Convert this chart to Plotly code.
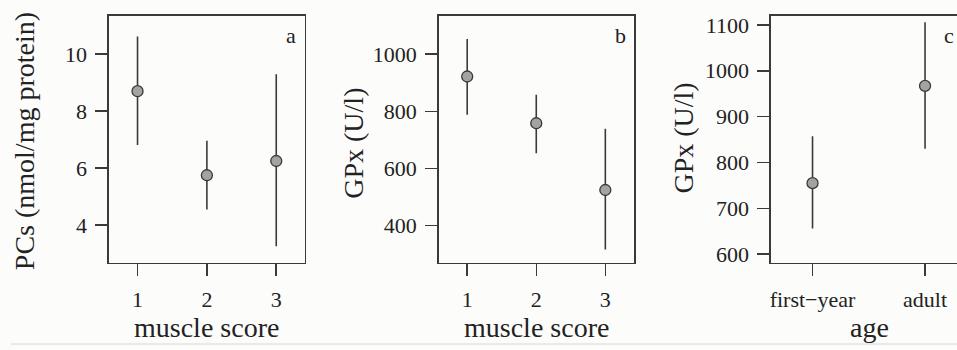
import plotly.graph_objects as go

# ---- data ----
muscle_scores = [1, 2, 3]
pcs_mean = [8.70, 5.75, 6.25]
pcs_upper = [10.62, 6.96, 9.30]
pcs_lower = [6.81, 4.55, 3.26]

gpx_ms_mean = [922, 758, 524]
gpx_ms_upper = [1053, 858, 739]
gpx_ms_lower = [788, 653, 315]

age_pos = [1, 2]
age_labels = ["first\u2212year", "adult"]
gpx_age_mean = [755, 967]
gpx_age_upper = [857, 1106]
gpx_age_lower = [656, 830]

W, H = 957, 350
FONT = "Liberation Serif"
DARK = "#3a3a3a"
BG = "#fcfcfa"


def px(x):
    return x / W


def py(y):
    return 1 - y / H


fig = go.Figure()


def add_panel(xs, mean, up, lo, xa, ya):
    fig.add_trace(go.Scatter(
        x=xs, y=mean, mode="markers",
        marker=dict(size=11, color="#a3a3a3", line=dict(color=DARK, width=1.3)),
        error_y=dict(type="data", symmetric=False,
                     array=[u - m for u, m in zip(up, mean)],
                     arrayminus=[m - l for m, l in zip(mean, lo)],
                     width=0, thickness=1.6, color=DARK),
        xaxis=xa, yaxis=ya, showlegend=False, hoverinfo="skip"))


add_panel(muscle_scores, pcs_mean, pcs_upper, pcs_lower, "x", "y")
add_panel(muscle_scores, gpx_ms_mean, gpx_ms_upper, gpx_ms_lower, "x2", "y2")
add_panel(age_pos, gpx_age_mean, gpx_age_upper, gpx_age_lower, "x3", "y3")

top, bot = 13, 265
ydom = [py(bot), py(top)]

ax_common = dict(showline=True, linecolor=DARK, linewidth=1.5, ticks="outside",
                 ticklen=12, tickwidth=1.5, tickcolor=DARK, showgrid=False,
                 zeroline=False, tickfont=dict(family=FONT, size=22, color="#222"),
                 ticklabelstandoff=4)

fig.update_layout(
    xaxis=dict(domain=[px(108), px(304)], range=[0.587, 3.41], tickvals=muscle_scores,
               mirror=True, anchor="y", **ax_common),
    yaxis=dict(domain=ydom, range=[2.68, 11.35], tickvals=[4, 6, 8, 10],
               mirror=True, anchor="x", **ax_common),
    xaxis2=dict(domain=[px(438), px(634)], range=[0.585, 3.42], tickvals=muscle_scores,
                mirror=True, anchor="y2", **ax_common),
    yaxis2=dict(domain=ydom, range=[269, 1135], tickvals=[400, 600, 800, 1000],
                mirror=True, anchor="x2", **ax_common),
    xaxis3=dict(domain=[px(770.7), 1.0], range=[0.63, 2.284], tickvals=age_pos,
                ticktext=age_labels, mirror=True, anchor="y3", **ax_common),
    yaxis3=dict(domain=ydom, range=[581.5, 1120],
                tickvals=[600, 700, 800, 900, 1000, 1100],
                mirror=False, anchor="x3", **ax_common),
    width=W, height=H, margin=dict(l=0, r=0, t=0, b=0),
    paper_bgcolor=BG, plot_bgcolor=BG,
)

title_font = dict(family=FONT, size=28, color="#222")
anns = [
    dict(text="PCs (nmol/mg protein)", x=23, y=141, rot=-90),
    dict(text="GPx (U/l)", x=353, y=143, rot=-90),
    dict(text="GPx (U/l)", x=683, y=138, rot=-90),
    dict(text="muscle score", x=206, y=331, rot=0),
    dict(text="muscle score", x=536, y=331, rot=0),
    dict(text="age", x=869, y=331, rot=0),
]
for a in anns:
    fig.add_annotation(text=a["text"], x=px(a["x"]), y=py(a["y"]), xref="paper",
                       yref="paper", showarrow=False, textangle=a["rot"],
                       font=title_font, xanchor="center", yanchor="middle")

for lab, x in [("a", 290), ("b", 620), ("c", 949)]:
    fig.add_annotation(text=lab, x=px(x), y=py(33), xref="paper", yref="paper",
                       showarrow=False, font=dict(family=FONT, size=22, color="#222"),
                       xanchor="center", yanchor="middle")

fig.add_shape(type="line", xref="paper", yref="paper", x0=px(10), x1=1,
              y0=py(348), y1=py(348), line=dict(color="#d6d6d6", width=1))

# remove the default 8px page margin so the 957x350 figure fills the window exactly
fig.write_html("out.html",
               config={"displayModeBar": False, "staticPlot": True},
               post_script="document.body.style.margin='0';"
                           "document.body.style.overflow='hidden';")
